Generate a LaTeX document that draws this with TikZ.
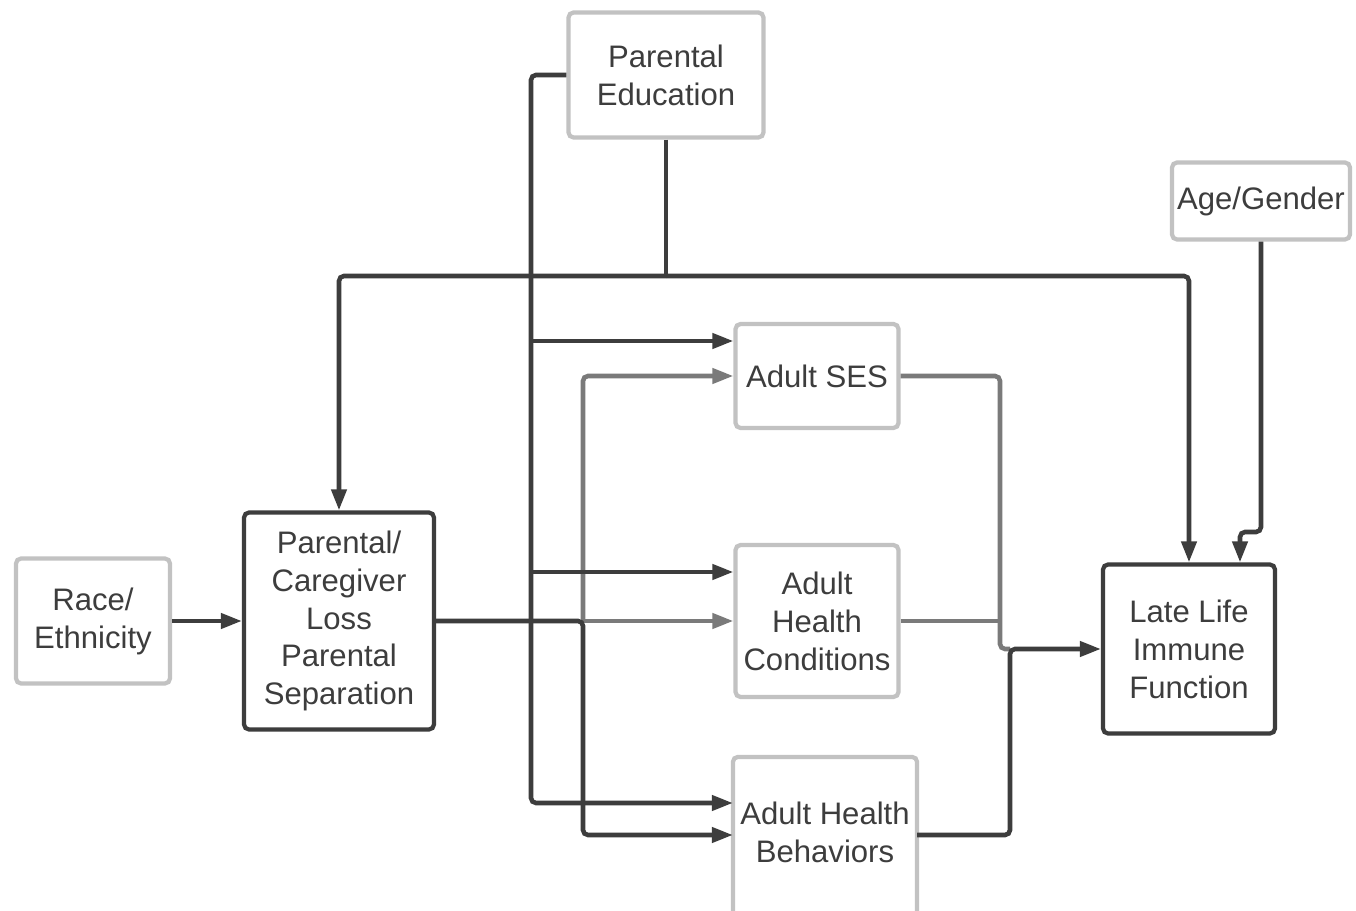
\documentclass[tikz,border=0pt]{standalone}
\usepackage{fontspec}
\setmainfont{Liberation Sans}
\usetikzlibrary{arrows.meta}
\definecolor{dark}{HTML}{3D3D3D}
\definecolor{mid}{HTML}{7A7A7A}
\definecolor{soft}{HTML}{C2C2C2}

\begin{document}
\begin{tikzpicture}[x=0.02cm, y=-0.02cm,
  every node/.style={align=center, text=dark, inner sep=0pt, rounded corners=0.1cm, line width=2.4pt,
    font=\fontsize{17.7pt}{21.6pt}\selectfont},
  softbox/.style={draw=soft},
  darkbox/.style={draw=dark},
  dk/.style={draw=dark, line width=2.6pt, rounded corners=0.1cm, -{Triangle[length=12pt,width=8.5pt]}},
  dkline/.style={draw=dark, line width=2.6pt, rounded corners=0.1cm},
  gy/.style={draw=mid, line width=2.6pt, rounded corners=0.1cm, -{Triangle[length=12pt,width=8.5pt]}},
  gyline/.style={draw=mid, line width=2.6pt, rounded corners=0.1cm}]
\useasboundingbox[fill=white] (0,0) rectangle (1356,911);

\node[softbox, minimum width=3.9cm, minimum height=2.5cm] (pedu) at (666,75) {Parental\\Education};
\node[softbox, minimum width=3.56cm, minimum height=1.54cm] (agegen) at (1261,201) {Age/Gender};
\node[softbox, minimum width=3.26cm, minimum height=2.08cm] (ses) at (817,376) {Adult SES};
\node[softbox, minimum width=3.08cm, minimum height=2.5cm] (race) at (93,621) {Race/\\Ethnicity};
\node[darkbox, minimum width=3.8cm, minimum height=4.34cm] (loss) at (339,621) {Parental/\\Caregiver\\Loss\\Parental\\Separation};
\node[softbox, minimum width=3.26cm, minimum height=3.04cm] (cond) at (817,621) {Adult\\Health\\Conditions};
\node[darkbox, minimum width=3.44cm, minimum height=3.38cm] (immune) at (1189,649) {Late Life\\Immune\\Function};
\node[minimum width=3.6cm, minimum height=2.92cm] (behav) at (825,832) {Adult Health\\Behaviors};
\draw[draw=soft, line width=2.4pt, rounded corners=0.1cm] ([yshift=-2cm]behav.south west) |- (behav.north east) -- ([yshift=-2cm]behav.south east);

\coordinate (split) at (666,276);
\coordinate (fork) at (583,621);
\coordinate (join) at (1010,649);
\coordinate (tses) at (531,341);
\coordinate (tcond) at (531,572);

\draw[gy] (fork) |- (ses.west);
\draw[gy] (fork) -- (cond.west);
\draw[gyline] (ses.east) -| (1000,649) -- (join);
\draw[gyline] (cond.east) -- (1000,621);

\draw[dk] (pedu.west) -| (531,803) -- (behav.west |- 0,803);
\draw[dk] (tses) -- (ses.west |- tses);
\draw[dk] (tcond) -- (cond.west |- tcond);
\draw[dkline] (pedu.south) -- (split);
\draw[dk] (split) -| (loss.north);
\draw[dk] (split) -| (immune.north);
\draw[dk] (agegen.south) -- (1261,532) -| (immune.north -| 1240,0);
\draw[dk] (race.east) -- (loss.west);
\draw[dk] (loss.east) -- (fork) |- (behav.west |- 0,835);
\draw[dk] (behav.east |- 0,835) -| (join) -- (immune.west);
\end{tikzpicture}
\end{document}
